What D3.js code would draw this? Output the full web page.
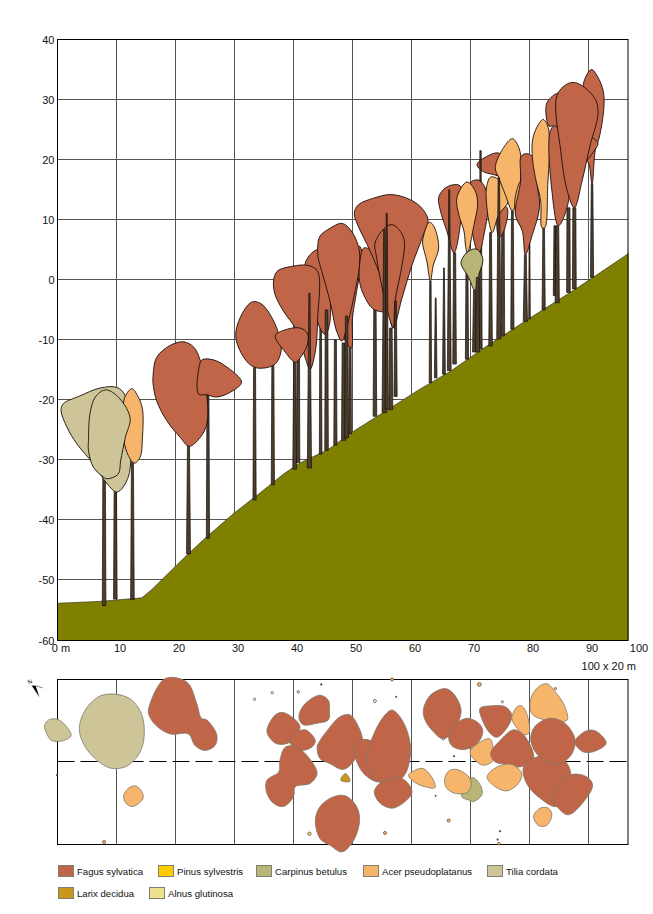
<!DOCTYPE html>
<meta charset="utf-8">
<style>
  body { margin: 0; background: #fff; }
  text { font-family: "Liberation Sans", Arial, sans-serif; font-size: 11px; fill: #111; }
</style>

<!-- Load d3.js -->
<script src="https://d3js.org/d3.v7.min.js"></script>

<div id="my_dataviz"></div>

<script>
var colors = {F: "#c06547", A: "#f6b56b", T: "#cdc498", C: "#b9b576", L: "#c9961e", P: "#ffcc00", N: "#eee28e"};

// ground profile, metres
var ground = [[0,-53.8],[7,-53.5],[14.3,-52.9],[16,-51.5],[21.6,-46.1],[25,-43],[29.8,-38.9],[34,-35.7],[38.3,-32.3],[41,-30.5],[45.9,-28.2],[50.3,-25.1],[55,-22.2],[61.2,-18.3],[66.6,-15.2],[72,-11.5],[80,-6.4],[88,-1.4],[96.8,4.4]];

// trunks: x, base, top, width at top, width at base, in front of the crowns
var trunks = [
  [7.9,-54.2,-33,2.6,3.6,0],[9.8,-53.1,-35,2.4,3.6,0],[12.7,-53.2,-30,2,3.6,0],
  [22.2,-45.6,-27.5,2,4,0],[25.5,-43,-19,2,3.2,0],[33.4,-36.6,-14.6,2,3.2,0],[36.5,-34.1,-14,2,3.2,0],
  [40.2,-31.5,-13.5,2,3.8,0],[40.8,-30.4,-12.6,2.6,3.2,0],[42.7,-31.3,-2.2,1.2,4.2,1],
  [44.6,-29,-7,1.6,2.6,0],[45.6,-28.4,-5,2.6,3.6,1],[47.1,-27.5,-10,2,3.2,0],[48.5,-26.7,-10.5,3,4.2,0],
  [49,-26.3,-6,2.4,3.8,1],[49.6,-25.6,-6,1.6,2.6,0],
  [53.8,-22.7,-4.9,2.4,3.6,0],[55.4,-22.1,8.4,1.4,4.6,1],[55.8,-21.5,11.1,1,3.2,1],[56.5,-21.6,-8,2.6,3.8,0],[57.3,-19.4,-3.5,1.6,3.2,1],
  [63.2,-17.1,-.2,1.4,2.4,0],[64.1,-16.3,-3,.9,2.6,0],[65.5,-15.7,2,.8,2.8,0],[66.4,-15.1,15,1,3.8,1],[67.3,-14,4.5,2.2,3.6,0],
  [69.4,-13.2,4.5,1.8,3.2,0],[70.7,-12,-1.7,2.2,4.2,0],[71.2,-12,.4,2.6,4.2,1],[71.7,-11.5,16.5,1.6,3.2,0],[71.7,16.5,21.5,1.4,1.4,1],
  [73.4,-11,7.9,1.8,3.6,0],[74.8,-9.8,17,1.4,4.2,1],[75.5,-9.3,11,2.4,3.4,0],[77.1,-8.2,11.5,1.8,3.2,0],
  [79.3,-6.9,4.2,1.8,4.2,0],[80,-6.5,6,.8,1.6,0],[82.4,-5,8.7,1.6,3.2,0],
  [84.3,-2.6,9,1.8,3.2,0],[84.7,-3.8,9,3,4.2,0],[86.6,-2.1,12,3,3.6,0],[87.6,-1.5,12,3,3.8,0],[90.6,.4,15.9,1.6,3.2,0]
];

// crown outlines in elevation, back to front
var crowns = [
  {s:"T", p:[[.6,-21.7],[1,-20.6],[3.8,-19.3],[7.2,-18],[10.1,-17.9],[11.5,-19.3],[12.3,-25],[12,-32.8],[10.1,-35.3],[8.4,-33.9],[6.1,-30.6],[3.3,-27.3],[1.6,-24.5]]},
  {s:"A", p:[[11.3,-19.8],[12.6,-18.1],[13.7,-19.5],[14.4,-21.5],[14.4,-26.2],[14,-29.5],[13,-30.5],[12,-29.2],[11.3,-27],[11.3,-23]]},
  {s:"T", p:[[5.25,-26.7],[5.5,-22.3],[6.4,-19.5],[8.1,-18.3],[10.1,-19.3],[12.3,-22.9],[11.5,-26.2],[10.7,-30.1],[10.3,-32.3],[8.4,-33.1],[7.8,-32.8],[6.1,-31.2],[5.25,-28.4]]},
  {s:"F", p:[[16.2,-15.9],[16.8,-12.9],[19.1,-10.9],[21.4,-10.3],[23.1,-11.2],[24.2,-13.4],[25.3,-19],[25.3,-24],[24.2,-26.2],[22.3,-27.7],[20.8,-26.2],[18.5,-23.4],[16.8,-20.1],[16.2,-17.3]]},
  {s:"F", p:[[23.9,-19],[24,-14.5],[24.5,-13.3],[26.4,-13.3],[28.7,-14.5],[31.2,-17],[29.8,-18.4],[27,-19.5],[25.3,-19.1]]},
  {s:"F", p:[[30.2,-9.3],[31,-6.2],[32.9,-3.7],[34.4,-3.9],[36,-5.7],[37.5,-9],[37.9,-11.8],[36.9,-14],[34.6,-14.7],[32.9,-14.3],[31.2,-12.3]]},
  {s:"F", p:[[42,2.8],[44.1,5],[45.1,2.5],[46.2,-3],[46.1,-7.4],[45.4,-9.1],[44.5,-8]]},
  {s:"F", p:[[36.6,-.5],[37.2,1.4],[40,2.3],[42.5,2.4],[44.1,1.4],[44.1,-6.3],[43.7,-11.9],[42.8,-14.9],[42,-13],[40.6,-8.5],[38.3,-5.2],[36.9,-2.5]]},
  {s:"F", p:[[36.9,-9.3],[38.3,-8.4],[41.1,-8],[42.4,-9],[42.3,-10.9],[41.4,-12.6],[40.3,-13.7],[38.6,-12]]},
  {s:"F", p:[[49,-1.9],[51.2,5.6],[51.6,4.2],[50.7,-1.9],[50,-6.3],[49.8,-11.3],[48.8,-10.2]]},
  {s:"F", p:[[44.1,5.6],[44.5,7.3],[46.2,8.6],[48.2,9.4],[49.6,8.4],[51,5.6],[51.2,2.5],[50.2,-3],[49,-8],[48.2,-10.2],[47.3,-8.5],[46.2,-3.6],[44.8,1.4],[44.2,3.6]]},
  {s:"F", p:[[51.2,2.5],[51.9,5.3],[53.3,4.8],[55,.3],[55.8,-5.1],[53.6,-4.9],[51.9,-2.5],[51.2,-.3]]},
  {s:"F", p:[[50.3,11.1],[51,12.5],[53.6,13.6],[56.4,14.2],[59.2,13.6],[61.5,12.2],[62.8,10],[62,7.5],[60.1,2.5],[58.4,-3],[56.9,-8],[56.1,-5.2],[55,-.2],[53,4.8],[51,8.9]]},
  {s:"F", p:[[53.8,6.1],[55.3,8.5],[56.7,9.2],[58.1,8.1],[58.8,6.4],[58.4,2.5],[57.2,-3.6],[56.9,-8],[55.8,-4.7],[54.7,.3],[54,4.2]]},
  {s:"A", p:[[61.9,6.7],[63,9.6],[63.8,8.9],[64.6,5.3],[63.7,2.5],[63.2,-.2],[62.6,3.1],[61.9,5.9]]},
  {s:"F", p:[[64.6,13.7],[65.5,15.1],[66.9,15.8],[68.3,15.6],[68.4,10.4],[67.2,4.5],[66,8.1],[64.9,11.5]]},
  {s:"F", p:[[70,16.2],[71.4,16.6],[72.5,15.3],[73,12.6],[72.3,7.6],[71.4,4.3],[70.6,6.5],[70,11]]},
  {s:"A", p:[[67.7,13.7],[69.4,16.3],[70.8,14.8],[71.2,12.6],[70.6,9.2],[69.5,4.5],[69.2,5.4],[68.9,8.1],[68,10.9]]},
  {s:"C", p:[[68.4,2.9],[69.7,4.8],[71.1,5.1],[72.1,3.4],[71.4,.9],[70.7,-1.7],[69.7,.4]]},
  {s:"F", p:[[71.1,19.2],[72.5,20.4],[74.8,21.1],[76.2,19.2],[76.2,17],[74,17.5],[72,18.1]]},
  {s:"F", p:[[74.8,12.6],[76.2,12],[75.6,8],[74.8,7]]},
  {s:"A", p:[[72.7,15.3],[73.4,17.1],[74.8,16.7],[76.5,13.7],[76.2,12.6],[74.8,10.9],[73.7,7.9],[73.1,9.8],[72.7,13.1]]},
  {s:"A", p:[[74.2,18.7],[75.6,22],[77.1,23.5],[78.2,22],[78.6,19.2],[78.2,14.8],[77.1,11.5],[75.9,14.2],[74.8,17]]},
  {s:"A", p:[[77.5,13.1],[78.5,16.4],[79,13.1],[78.8,8.7],[77.9,10.4]]},
  {s:"F", p:[[78.6,20.6],[79.6,21],[80.7,20.3],[81.3,15.9],[81.7,12],[80.5,7.6],[79.3,4.2],[78.8,8.1],[77.6,10.9],[78.5,16.4]]},
  {s:"A", p:[[80.5,23.1],[81.2,25.3],[82.3,26.7],[83.1,25.6],[83.4,22.5],[83.1,15.9],[82.6,8.7],[82.1,8.7],[81.9,13.1],[81,17],[80.5,20.3]]},
  {s:"F", p:[[82.8,28.9],[83.3,30],[85,31.1],[86.4,30],[86.4,22],[84.1,25.6],[83.3,25.6]]},
  {s:"F", p:[[83.4,24.2],[84.1,25.6],[85.3,24.7],[86.7,13.7],[84.9,9],[83.8,14.8]]},
  {s:"F", p:[[89.1,32.5],[90.5,35],[91.5,33.9],[92.5,31.4],[92.6,28.6],[91.8,23.6],[91.2,21.9],[90.6,15.9],[90.1,19.2],[89.5,20.3],[89.8,26]]},
  {s:"F", p:[[89.5,19.8],[90.2,23.7],[91.6,22.8],[90.9,21.4]]},
  {s:"F", p:[[84.7,30.8],[86.9,32.8],[88.6,32.5],[91.2,30],[91.6,27.5],[90.3,22.5],[88.9,16.4],[87.6,12],[86.4,14.8],[85.3,21.4]]}
];

// crown projections on the plot, x along the slope, y across it (0-20 m)
var plan = [
  {s:"T", p:[[-2.2,14.4],[-1.5,15.1],[-.1,15.2],[1.3,14.5],[2.3,13.2],[1,12.6],[-1,12.6],[-1.8,13.4]]},
  {s:"T", p:[[3.7,14.1],[4.7,16.3],[7.2,18],[10.1,18.2],[12.6,17.5],[14.3,15.7],[14.7,13.3],[14,11.2],[12,9.6],[10.1,9.2],[8.4,9.4],[6.1,10.6],[4.4,12.2]]},
  {s:"A", p:[[11.2,5.9],[12,6.8],[13.2,7.1],[14.3,6.4],[14.5,5.6],[13.4,4.8],[12.6,4.6],[11.6,5]]},
  {s:"F", p:[[15.4,16.3],[16.8,18.9],[18.2,20.1],[20.2,20.2],[22.2,19.5],[23.6,17.1],[24.4,15.3],[25.3,15.1],[27,13.3],[26.7,12],[25,11.4],[23.3,12],[22.2,13.4],[19.1,13.4],[16.6,14.5],[15.5,15.7]]},
  {s:"F", p:[[35.5,13.9],[36.9,15.7],[38.3,16],[41.1,14.3],[39.4,12.4],[37.2,12.2],[35.8,13.1]]},
  {s:"F", p:[[41,15.9],[42,17.1],[44.5,18.1],[45.9,17.5],[46.1,16.3],[45.9,15.1],[44,14.7],[41.7,14.5],[41,15.1]]},
  {s:"F", p:[[39.3,12.6],[40.3,13.5],[42,13.9],[43.7,12.6],[43.1,11.8],[41.1,11.4],[39.7,12]]},
  {s:"F", p:[[37.7,10.2],[38.6,11.8],[40.3,11.9],[42.5,10.6],[44,8.6],[42.8,7.4],[40.3,7],[40,5.8],[38.3,4.6],[36.6,5],[35.4,6.4],[35.5,7.8],[37.5,8.8]]},
  {s:"F", p:[[44,11.8],[44.5,12.6],[45.6,13.7],[47.9,15.5],[49.6,15.7],[51,14.3],[51.7,12.6],[51,11],[49.3,9.4],[48.2,9.1],[46.2,9.8],[44.5,10.4]]},
  {s:"F", p:[[50.5,10.6],[50.7,12.4],[53,12.6],[55.8,7.8],[54.1,7.6],[51.9,8.6]]},
  {s:"F", p:[[52.4,10.6],[53.8,13.7],[55.5,15.7],[56.7,16.3],[58.4,15.1],[59.7,12.6],[59.7,10.2],[58.6,8.2],[56.4,7.4],[54.1,7.8],[52.7,9.4]]},
  {s:"F", p:[[53.7,6.4],[55,7.6],[58.4,8],[60.1,6.4],[58.9,5.2],[56.7,4.4],[54.7,5]]},
  {s:"F", p:[[43.7,2.9],[44.5,4.6],[46.8,5.8],[48.8,5.9],[50.7,4.6],[51.2,2.9],[50.2,.5],[48.2,-.9],[46.2,-.1],[44.5,.7]]},
  {s:"L", p:[[48,7.8],[48.8,8.6],[49.6,7.8],[49.4,7.6]]},
  {s:"A", p:[[59.5,8.4],[60.9,9.1],[62,9.2],[63.4,8.2],[64,6.9],[62.3,7],[60.6,7.5]]},
  {s:"C", p:[[68.5,5.8],[69.7,7.8],[70.5,8.1],[71.8,7],[71.9,6],[70.5,5.2],[69.7,5.4]]},
  {s:"A", p:[[65.6,7.8],[66.3,8.9],[67.7,9.1],[69.7,8.2],[70.1,7.2],[69.4,6.3],[67.4,6.2],[66,6.8]]},
  {s:"F", p:[[62,16.3],[63.2,18.1],[65.7,18.9],[67.1,18.3],[68.4,16.3],[67.4,14.1],[65.4,12.8],[63.4,13.9],[62.3,15.1]]},
  {s:"F", p:[[66.3,13.3],[67.7,14.7],[69.4,15.3],[71.4,14.7],[72.1,13.7],[71.1,12.2],[68.8,11.5],[66.8,12]]},
  {s:"A", p:[[69.9,11.2],[71.6,12.4],[73.3,12.8],[73.9,11.4],[73.9,10.2],[72.2,9.6],[71.1,10]]},
  {s:"F", p:[[71.6,16.5],[73.3,16.8],[75.9,16.7],[77,15.7],[76.5,14.5],[74.5,13],[73.3,13.5],[72,15.1]]},
  {s:"A", p:[[77,15.3],[77.9,16.7],[78.7,16.8],[79.7,15.5],[79.9,13.5],[79,13.3],[77.9,14.1]]},
  {s:"A", p:[[80.1,17.3],[81.2,18.9],[82.9,19.5],[84.6,18.3],[86,16.7],[86.4,15.1],[84.9,14.9],[80.6,15.7]]},
  {s:"F", p:[[73.4,11],[75,12.6],[77.3,13.9],[79,13.3],[80.7,10.4],[78.4,9.4],[76.2,9.7],[74.2,10]]},
  {s:"A", p:[[72.8,8.2],[74.5,9.4],[77,9.7],[78.7,8.6],[78.1,7.4],[76.2,6.5],[74.2,7]]},
  {s:"F", p:[[79,9.4],[81.2,10.6],[85.2,10.6],[86.9,9],[86.6,6.6],[84.6,4.6],[81.8,5.6],[79.5,7.4]]},
  {s:"F", p:[[80.2,12.8],[80.9,14.3],[83.5,15.3],[86,14.7],[87.7,12.8],[87.2,11],[85.2,9.8],[82.9,10],[81,11.2]]},
  {s:"F", p:[[87.7,12.4],[89.4,13.7],[91.1,13.8],[93,12.3],[91.4,11.4],[89.2,11.2]]},
  {s:"F", p:[[84.1,5.4],[84.9,7.4],[87.2,8.5],[89.7,8.2],[90.7,7.2],[89.2,5.2],[86.6,3.6],[84.9,4.4]]},
  {s:"A", p:[[80.7,3.4],[81.8,4.4],[83.2,4.4],[83.8,3.6],[82.9,2.3],[81.5,2.3]]}
];

// small trees on the plot: x, y, size, colour
var small = [
  [33.4,17.6,1.2,"#fff"],[36.4,18.4,1.2,"#fff"],[40.8,18.5,1.2,"#fff"],[44.7,19.4,.8,"#333"],[7.9,.3,1.6,"#e8c070"],[42.7,1.3,1.7,"#eee28e"],
  [-.1,8.4,.6,"#333"],[56.7,20,1.5,"#f6b56b"],[53.8,17.4,1.5,"#fff"],[57.4,17.9,.7,"#333"],[71.5,19.4,1.9,"#f6b56b"],[75.4,17.3,1.1,"#fff"],
  [84.4,18.9,1.1,"#f6b56b"],[65.4,12.8,1.1,"#fff"],[67.2,10.7,.7,"#333"],[64.1,5.9,.6,"#333"],[66.3,2.9,1.5,"#f6b56b"],[55.5,1.4,1.5,"#f6b56b"],
  [75,1.6,.8,"#333"],[74.6,.6,.8,"#c06547"],[74.8,.1,1.3,"#f6b56b"]
];

var legend = [
  {s:"F", n:"Fagus sylvatica", x:58, y:865},
  {s:"P", n:"Pinus sylvestris", x:158, y:865},
  {s:"C", n:"Carpinus betulus", x:256, y:865},
  {s:"A", n:"Acer pseudoplatanus", x:363, y:865},
  {s:"T", n:"Tilia cordata", x:487, y:865},
  {s:"L", n:"Larix decidua", x:58, y:887},
  {s:"N", n:"Alnus glutinosa", x:149, y:887}
];

var svg = d3.select("#my_dataviz").append("svg")
  .attr("width", 653).attr("height", 914).style("display", "block");

var right = 628;
var x = d3.scaleLinear().domain([0, 100]).range([57.5, 647.5]);
var y = d3.scaleLinear().domain([40, -60]).range([39.5, 640.5]);
var yPlan = d3.scaleLinear().domain([20, 0]).range([679.5, 844.5]);

var crownLine = d3.line().x(function(d) { return x(d[0]); }).y(function(d) { return y(d[1]); }).curve(d3.curveCatmullRomClosed.alpha(0.5));
var planLine = d3.line().x(function(d) { return x(d[0]); }).y(function(d) { return yPlan(d[1]); }).curve(d3.curveCatmullRomClosed.alpha(0.5));

// grid
var xGridVals = d3.range(10, 100, 10);
var yGridVals = d3.range(30, -60, -10);
svg.selectAll(".gx").data(xGridVals).enter().append("line")
  .attr("x1", x).attr("x2", x).attr("y1", y(40)).attr("y2", y(-60)).attr("stroke", "#555");
svg.selectAll(".gy").data(yGridVals).enter().append("line")
  .attr("x1", x(0)).attr("x2", right).attr("y1", function(d) { return Math.round(y(d)) - .5; }).attr("y2", function(d) { return Math.round(y(d)) - .5; }).attr("stroke", "#555");

// ground
var area = d3.area().x(function(d) { return x(d[0]); }).y0(y(-60)).y1(function(d) { return y(d[1]); });
svg.append("path").datum(ground).attr("d", area).attr("fill", "#808000");
svg.append("path").datum(ground)
  .attr("d", d3.line().x(function(d) { return x(d[0]); }).y(function(d) { return y(d[1]); }))
  .attr("fill", "none").attr("stroke", "#222").attr("stroke-width", 0.6);

function trunkPath(d) {
  var a = d[3] / 2, b = d[4] / 2, c = x(d[0]);
  return "M" + (c - a) + "," + y(d[2]) + "L" + (c + a) + "," + y(d[2]) + "L" + (c + b) + "," + y(d[1]) + "L" + (c - b) + "," + y(d[1]) + "Z";
}
function drawTrunks(list) {
  svg.append("g").selectAll("path").data(list).enter().append("path")
    .attr("d", trunkPath).attr("fill", "#4d3d2d").attr("stroke", "#140f0a").attr("stroke-width", 0.7);
}
drawTrunks(trunks.filter(function(d) { return !d[5]; }));

svg.append("g").selectAll("path").data(crowns).enter().append("path")
  .attr("d", function(d) { return crownLine(d.p); })
  .attr("fill", function(d) { return colors[d.s]; })
  .attr("stroke", "#1a0f0a").attr("stroke-width", 0.9);

drawTrunks(trunks.filter(function(d) { return d[5]; }));

// frame and axes
svg.append("rect").attr("x", x(0)).attr("y", y(40)).attr("width", right - x(0)).attr("height", y(-60) - y(40))
  .attr("fill", "none").attr("stroke", "#000");

var yAxis = svg.append("g").attr("transform", "translate(" + x(0) + ",0)")
  .call(d3.axisLeft(y).tickValues(d3.range(40, -70, -10)).tickSize(0).tickPadding(3).tickFormat(function(d) { return d; }));
yAxis.select(".domain").remove();

var xAxis = svg.append("g").attr("transform", "translate(3,641)")
  .call(d3.axisBottom(x).tickValues(d3.range(0, 110, 10)).tickSize(0).tickPadding(3)
    .tickFormat(function(d) { return d === 0 ? "0 m" : d; }));
xAxis.select(".domain").remove();
xAxis.selectAll("g.tick").filter(function(d) { return d === 100; }).select("text").attr("dx", -12);
svg.selectAll(".tick text").style("font-family", "'Liberation Sans', Arial, sans-serif").style("font-size", "11px").style("fill", "#111");

svg.append("text").attr("x", 636).attr("y", 670).attr("text-anchor", "end").text("100 x 20 m");

// plan
svg.selectAll(".px").data(xGridVals).enter().append("line")
  .attr("x1", x).attr("x2", x).attr("y1", yPlan(20)).attr("y2", yPlan(0)).attr("stroke", "#555");

svg.append("line").attr("x1", x(0)).attr("x2", right).attr("y1", yPlan(10) - .5).attr("y2", yPlan(10) - .5)
  .attr("stroke", "#000").attr("stroke-dasharray", "17,6");

svg.append("rect").attr("x", x(0)).attr("y", yPlan(20)).attr("width", right - x(0)).attr("height", yPlan(0) - yPlan(20))
  .attr("fill", "none").attr("stroke", "#000");

svg.append("g").selectAll("path").data(plan).enter().append("path")
  .attr("d", function(d) { return planLine(d.p); })
  .attr("fill", function(d) { return colors[d.s]; })
  .attr("stroke", "#7f7a6e").attr("stroke-width", 0.8);

svg.append("g").selectAll("circle").data(small).enter().append("circle")
  .attr("cx", function(d) { return x(d[0]); }).attr("cy", function(d) { return yPlan(d[1]); }).attr("r", function(d) { return d[2]; })
  .attr("fill", function(d) { return d[3]; }).attr("stroke", "#4d3d2d").attr("stroke-width", 0.7);

// north arrow
var arrow = svg.append("g").attr("transform", "translate(36,690) rotate(-25)");
arrow.append("path").attr("d", "M0,8L-2,-6L1.5,-4Z").attr("fill", "#000");
arrow.append("line").attr("x1", 1.5).attr("y1", -4).attr("x2", 7).attr("y2", 1).attr("stroke", "#666").attr("stroke-width", .7);
arrow.append("text").attr("x", -2).attr("y", -8).attr("text-anchor", "middle").style("font-size", "6px").text("N");

// legend
var items = svg.append("g").selectAll("g").data(legend).enter().append("g")
  .attr("transform", function(d) { return "translate(" + d.x + "," + d.y + ")"; });
items.append("rect").attr("x", .5).attr("y", .5).attr("width", 15).attr("height", 11)
  .attr("fill", function(d) { return colors[d.s]; }).attr("stroke", "#808070");
items.append("text").attr("x", 19).attr("y", 10).style("font-size", "9.6px").text(function(d) { return d.n; });
</script>
